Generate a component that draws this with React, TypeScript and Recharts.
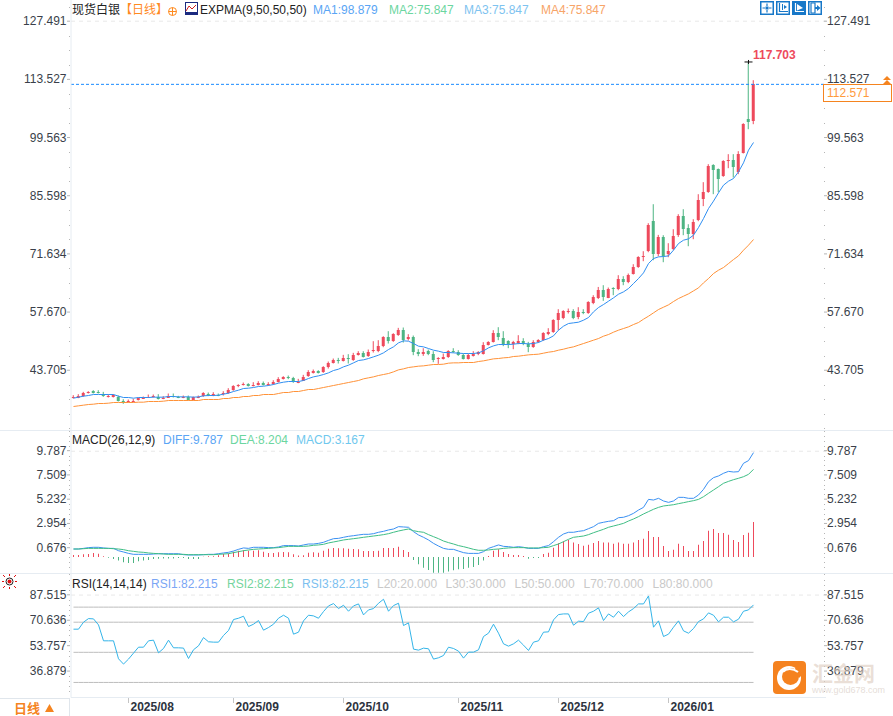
import React from 'react';
import { ComposedChart, Bar, Line, Cell, XAxis, YAxis, ReferenceLine, ReferenceDot } from 'recharts';

const highs = [
  37.72,37.96,38.52,38.68,38.92,38.92,38.52,37.96,37.96,37.64,
  36.76,36.68,36.84,37.16,37.4,37.88,37.88,37.96,37.48,38.12,
  38.12,37.56,37.64,37.64,37.4,37.64,38.44,38.36,38.44,38.12,
  38.68,39.4,40.12,40.36,40.76,40.6,40.84,41.08,41.0,40.84,
  41.32,42.04,42.28,42.44,42.12,41.64,42.6,43.72,43.88,43.72,
  44.68,45.8,46.52,46.68,47.4,47.56,47.88,48.28,48.28,48.68,
  50.68,50.92,51.88,53.08,52.6,53.88,53.96,52.36,52.04,48.76,
  49.0,48.68,48.28,46.84,47.72,48.52,49.0,48.52,47.72,47.72,
  48.28,48.28,50.44,50.68,53.32,54.04,53.08,50.92,50.76,52.12,
  51.4,50.52,50.92,51.16,52.84,53.8,55.96,58.36,58.12,58.52,
  58.36,58.84,58.36,60.28,61.72,63.7,64.12,63.56,63.64,66.52,
  66.28,66.92,69.16,71.08,72.28,79.0,83.56,76.2,76.12,74.2,
  77.56,81.16,82.36,78.76,79.96,85.96,88.85,93.17,93.17,92.13,
  94.13,95.57,95.57,96.29,103.01,117.703,113.33,
];
const opens = [
  37.24,37.16,37.48,38.28,38.68,38.44,38.04,37.4,37.24,37.24,
  36.36,36.04,36.36,36.52,36.92,37.16,37.4,37.4,36.92,37.24,
  37.56,37.4,37.16,37.24,36.52,37.16,37.48,38.12,37.64,37.88,
  37.96,38.2,38.92,39.88,40.2,40.36,40.04,40.2,40.68,40.12,
  40.28,40.92,41.56,42.04,41.8,40.92,41.24,42.28,43.0,43.48,
  43.24,44.36,45.4,46.28,45.88,46.6,46.12,47.32,47.96,47.08,
  48.2,48.36,49.48,51.64,50.68,52.28,53.48,51.16,51.64,48.04,
  47.56,48.36,47.56,46.28,46.36,46.84,48.28,48.04,47.32,46.36,
  47.08,47.56,47.56,49.72,50.44,52.6,51.4,50.68,49.96,50.12,
  50.68,49.96,49.24,50.44,50.92,52.36,52.84,55.72,56.2,57.64,
  57.88,56.44,57.64,57.4,59.72,61.0,62.92,61.08,63.4,63.16,
  65.56,64.84,66.76,68.44,70.84,72.28,79.48,71.56,75.64,71.56,
  72.76,76.12,80.68,77.8,76.36,79.72,84.77,86.45,92.93,91.97,
  90.29,94.13,94.13,91.25,95.81,103.97,103.49,
];
const closes = [
  37.4,37.64,38.2,38.44,38.2,38.28,37.48,37.56,37.72,36.28,
  36.12,36.28,36.44,37.0,37.16,37.4,37.56,36.84,37.16,37.64,
  37.32,37.16,37.4,36.52,37.24,37.4,38.2,37.56,38.04,37.64,
  38.28,39.0,39.88,40.12,40.36,39.96,40.28,40.68,40.12,40.44,
  40.84,41.56,42.12,41.72,41.0,41.0,42.2,43.32,43.56,43.0,
  44.44,45.4,46.12,46.12,46.68,46.44,47.32,47.8,47.08,48.04,
  48.52,49.56,51.64,50.68,52.36,53.48,51.16,51.64,48.04,47.56,
  48.04,47.72,46.12,46.6,46.84,48.28,48.04,47.32,46.36,47.32,
  47.56,48.04,49.72,50.52,52.6,51.64,49.72,49.96,50.44,50.68,
  49.96,49.24,50.52,50.92,52.6,52.84,55.72,57.4,57.88,57.88,
  56.2,57.64,57.4,60.04,61.24,62.9,61.32,63.32,63.16,65.56,
  64.84,66.52,68.44,70.84,71.08,78.52,71.56,75.64,71.08,72.28,
  75.88,80.68,77.56,76.36,79.24,84.52,86.45,92.69,91.73,89.57,
  93.89,94.29,92.45,95.57,102.77,103.25,112.33,
];
const lows = [
  36.92,37.0,37.32,38.12,38.12,38.12,37.32,37.16,37.16,36.2,
  35.64,35.96,36.04,36.44,36.84,37.08,37.16,36.68,36.76,37.16,
  37.16,37.0,37.0,36.44,36.44,37.0,37.32,37.48,37.48,37.48,
  37.64,38.04,38.76,39.64,40.04,39.8,39.8,40.04,40.04,39.96,
  40.2,40.76,41.48,41.56,40.68,40.6,41.16,42.12,42.92,42.92,
  43.08,44.12,45.32,45.32,45.8,45.32,45.96,47.24,46.76,46.92,
  47.96,48.04,49.24,50.12,50.52,51.96,50.36,50.84,47.32,47.08,
  47.16,47.32,45.64,45.24,46.28,46.68,47.88,47.16,46.28,46.28,
  47.0,47.32,47.48,49.64,50.36,50.92,49.48,49.0,48.76,49.96,
  49.72,48.04,49.08,50.28,50.76,52.12,52.68,53.32,55.96,57.32,
  55.96,55.96,57.16,57.24,59.56,60.8,60.36,61.0,61.72,62.92,
  64.12,64.6,66.68,68.28,69.88,72.04,70.12,71.08,69.64,70.84,
  72.52,75.72,76.12,73.48,75.16,79.48,83.1,86.29,85.97,86.45,
  90.13,92.21,89.97,90.77,95.73,101.57,102.77,
];
const ma1 = [
  37.0,37.24,37.48,37.64,37.88,37.88,37.88,37.88,37.88,37.48,
  37.16,37.16,37.0,37.16,37.16,37.16,37.24,37.24,37.24,37.4,
  37.4,37.32,37.32,37.32,37.24,37.32,37.56,37.64,37.64,37.72,
  37.96,38.2,38.6,38.92,39.32,39.4,39.56,39.8,39.88,40.04,
  40.28,40.6,40.84,41.0,41.0,41.0,41.24,41.72,42.12,42.36,
  42.68,43.08,43.64,43.96,44.52,44.92,45.48,46.04,46.2,46.52,
  46.92,47.32,47.88,48.68,49.32,50.28,50.76,50.68,50.12,49.48,
  49.32,48.92,48.52,48.28,47.96,47.96,47.88,47.8,47.72,47.72,
  47.72,47.88,48.36,49.08,49.56,49.88,49.88,49.88,49.96,50.12,
  50.12,50.04,50.12,50.36,50.92,51.32,51.96,53.32,54.28,54.92,
  55.08,55.24,55.72,56.36,57.72,58.76,59.48,60.28,61.08,61.96,
  62.52,63.32,64.52,65.72,67.08,69.32,70.52,70.92,71.0,71.16,
  72.52,74.12,74.92,75.24,76.12,77.96,80.12,82.52,84.3,86.29,
  88.13,89.09,89.73,91.33,93.49,96.53,98.37,
];
const ma2 = [
  35.0,35.16,35.32,35.48,35.56,35.72,35.72,35.8,35.96,35.96,
  35.96,35.96,35.96,36.04,36.04,36.2,36.2,36.2,36.28,36.44,
  36.44,36.44,36.44,36.44,36.44,36.44,36.68,36.68,36.68,36.68,
  36.92,36.92,37.16,37.16,37.4,37.4,37.64,37.64,37.88,37.88,
  37.88,38.12,38.36,38.36,38.6,38.6,38.84,39.08,39.08,39.32,
  39.56,39.8,40.04,40.28,40.52,40.76,41.0,41.24,41.64,41.88,
  42.12,42.44,42.68,42.92,43.32,43.8,44.04,44.36,44.52,44.68,
  44.76,44.92,45.08,45.08,45.16,45.4,45.48,45.48,45.56,45.56,
  45.56,45.8,45.96,46.2,46.44,46.52,46.68,46.76,47.0,47.08,
  47.24,47.4,47.48,47.56,47.8,48.04,48.2,48.52,48.76,49.08,
  49.32,49.72,50.12,50.52,50.92,51.32,51.88,52.28,52.84,53.32,
  53.72,54.12,54.68,55.16,55.96,56.68,57.48,58.28,58.84,59.4,
  60.2,60.92,61.48,62.04,62.76,63.48,64.68,65.72,66.92,67.72,
  68.36,69.32,70.28,71.16,72.52,73.72,75.08,
];
const diff = [
  0.75,0.75,0.81,0.88,0.91,0.91,0.85,0.81,0.81,0.59,
  0.47,0.34,0.25,0.25,0.25,0.25,0.28,0.31,0.31,0.31,
  0.31,0.31,0.22,0.19,0.19,0.19,0.22,0.25,0.25,0.31,
  0.38,0.44,0.56,0.72,0.85,0.81,0.91,0.91,0.91,0.88,
  0.88,0.94,1.07,1.07,1.07,1.03,1.13,1.22,1.22,1.28,
  1.38,1.56,1.72,1.75,1.85,1.94,2.0,2.07,2.13,2.13,
  2.19,2.32,2.41,2.54,2.63,2.85,2.82,2.79,2.38,2.07,
  1.85,1.6,1.28,1.03,0.81,0.72,0.72,0.56,0.41,0.34,
  0.34,0.34,0.5,0.81,0.97,1.13,1.0,0.97,0.91,0.97,
  0.91,0.81,0.81,0.81,0.97,1.07,1.44,1.85,2.16,2.32,
  2.32,2.41,2.47,2.66,2.85,3.16,3.26,3.35,3.41,3.69,
  3.73,3.88,4.1,4.41,4.66,5.41,5.35,5.51,5.26,5.13,
  5.26,5.6,5.6,5.51,5.51,5.82,6.35,7.07,7.45,7.61,
  7.86,8.04,7.98,8.01,8.8,9.05,9.8,
];
const dea = [
  0.75,0.75,0.78,0.81,0.81,0.81,0.81,0.81,0.78,0.75,
  0.69,0.59,0.53,0.47,0.44,0.38,0.34,0.31,0.28,0.25,
  0.25,0.25,0.25,0.22,0.22,0.22,0.22,0.22,0.22,0.25,
  0.28,0.31,0.41,0.5,0.59,0.66,0.72,0.75,0.78,0.81,
  0.85,0.88,0.94,1.0,1.0,1.0,1.0,1.03,1.1,1.13,
  1.19,1.32,1.41,1.5,1.6,1.66,1.72,1.78,1.85,1.91,
  1.97,2.03,2.1,2.19,2.32,2.44,2.54,2.63,2.47,2.38,
  2.32,2.1,1.91,1.72,1.5,1.35,1.22,1.07,0.97,0.85,
  0.72,0.63,0.63,0.66,0.72,0.75,0.81,0.85,0.88,0.88,
  0.88,0.85,0.85,0.85,0.88,0.91,1.07,1.22,1.44,1.66,
  1.85,1.91,1.97,2.1,2.28,2.44,2.6,2.79,2.91,3.03,
  3.16,3.38,3.57,3.79,4.04,4.26,4.48,4.66,4.79,4.85,
  4.91,5.01,5.1,5.2,5.29,5.41,5.66,5.98,6.29,6.6,
  6.92,7.1,7.26,7.39,7.54,7.76,8.23,
];
const macdHist = [
  0.19,0.19,0.25,0.28,0.38,0.31,0.06,-0.06,-0.19,-0.34,
  -0.5,-0.56,-0.56,-0.41,-0.34,-0.28,-0.19,-0.16,-0.13,-0.13,
  -0.13,-0.09,-0.09,-0.19,-0.19,-0.19,0.03,0.06,0.06,0.16,
  0.28,0.34,0.5,0.59,0.63,0.59,0.59,0.63,0.5,0.38,
  0.38,0.44,0.47,0.44,0.25,0.13,0.16,0.41,0.44,0.41,
  0.59,0.78,0.85,0.81,0.81,0.78,0.75,0.72,0.56,0.56,
  0.56,0.59,0.85,0.85,0.85,0.97,0.66,0.47,-0.28,-0.69,
  -1.0,-1.22,-1.47,-1.47,-1.47,-1.35,-1.25,-1.16,-1.13,-1.0,
  -0.94,-0.75,-0.34,0.09,0.59,0.72,0.47,0.28,0.19,0.19,
  0.09,-0.16,-0.09,-0.09,0.28,0.41,0.88,1.28,1.47,1.6,
  1.35,1.22,1.06,1.16,1.31,1.5,1.35,1.35,1.25,1.35,
  1.25,1.25,1.35,1.6,1.72,2.44,1.88,1.88,1.03,0.56,
  0.69,1.25,1.03,0.56,0.56,1.16,1.5,2.47,2.63,2.25,
  2.25,2.1,1.6,1.41,2.07,2.28,3.29,
];
const rsi = [
  65.36,65.36,70.0,72.4,72.2,68.2,57.63,57.63,57.63,45.7,
  42.2,45.5,49.46,53.4,53.4,57.63,58.07,49.7,52.55,58.07,
  53.0,53.0,52.8,45.9,51.7,54.3,59.8,57.0,56.75,56.75,
  61.2,64.5,71.76,72.64,73.97,67.12,68.67,71.1,64.7,66.46,
  68.67,72.64,74.63,72.64,62.05,63.37,70.88,74.63,74.19,72.64,
  77.06,80.81,82.36,79.05,81.26,77.28,80.81,82.14,74.85,78.16,
  79.05,82.58,85.23,77.28,81.03,82.58,67.79,69.55,52.11,51.45,
  52.77,52.33,45.5,46.37,47.9,53.4,52.55,50.78,46.15,50.12,
  50.12,51.67,60.5,62.71,68.67,62.71,55.64,54.1,55.64,58.07,
  54.76,51.23,56.75,57.63,63.37,63.59,71.54,75.07,75.5,75.5,
  68.0,70.66,70.44,75.96,77.28,79.49,71.1,75.5,73.3,77.28,
  73.75,76.84,79.05,82.14,82.14,87.44,66.68,70.88,60.5,62.05,
  66.68,70.88,64.25,62.71,65.8,70.44,72.2,76.18,74.63,70.22,
  73.3,73.3,70.22,71.98,77.28,78.16,81.48,
];

const rsiLevels = [80, 70, 50, 30, 20];
const priceTicks = [127.491, 113.527, 99.563, 85.598, 71.634, 57.67, 43.705];
const macdTicks = [9.787, 7.509, 5.232, 2.954, 0.676];
const rsiTicks = [87.515, 70.636, 53.757, 36.879];
const monthTicks = [11, 32, 54, 77, 97, 119];
const monthLabels = ['2025/08', '2025/09', '2025/10', '2025/11', '2025/12', '2026/01'];

const RED = '#ee4a5c';
const GREEN = '#4db583';
const FONT = '"Liberation Sans", Arial, "Noto Sans CJK SC", sans-serif';
const LABEL = '#3a3f4a';

const data = closes.map((c, i) => ({
  idx: i, open: opens[i], high: highs[i], low: lows[i], close: c,
  ma1: ma1[i], ma2: ma2[i], diff: diff[i], dea: dea[i], hist: macdHist[i], rsi: rsi[i],
}));

// major ticks plus the little dots between them
const withMinor = (majors: number[], parts: number, min: number, max: number) => {
  const out: number[] = [];
  const step = (majors[0] - majors[1]) / parts;
  for (let k = parts; k >= 1; k--) if (majors[0] + step * k < max) out.push(majors[0] + step * k);
  majors.forEach((m, i) => {
    out.push(m);
    if (i < majors.length - 1) {
      for (let k = 1; k < parts; k++) out.push(m - ((m - majors[i + 1]) * k) / parts);
    }
  });
  const last = majors[majors.length - 1];
  for (let k = 1; last - step * k > min; k++) out.push(last - step * k);
  return out;
};

const AxisTick = ({ y, value, side, majors, dy = 0 }: any) => {
  const major = majors.find((m: number) => Math.abs(m - value) < 1e-6);
  const yy = y + dy;
  if (major === undefined) {
    return <rect x={side === 'left' ? 69 : 824} y={Math.round(yy)} width={1} height={1} fill="#b5b5b5" />;
  }
  return (
    <g>
      <line x1={side === 'left' ? 67 : 824} x2={side === 'left' ? 70 : 827} y1={yy} y2={yy} stroke="#b5b5b5" />
      <text
        x={side === 'left' ? 66.5 : 827}
        y={yy}
        textAnchor={side === 'left' ? 'end' : 'start'}
        dominantBaseline="central"
        fontSize={12}
        fontFamily={FONT}
        fill={LABEL}
      >
        {major.toFixed(3)}
      </text>
    </g>
  );
};

const Candle = (props: any) => {
  const { x, y, width, height, payload } = props;
  if (payload.high == null) return null;
  const unit = Math.abs(height) / (payload.high - payload.low);
  const cx = x + width / 2;
  const up = payload.close >= payload.open;
  const color = up ? RED : GREEN;
  const top = y + (payload.high - Math.max(payload.open, payload.close)) * unit;
  const bodyH = Math.max(Math.abs(payload.open - payload.close) * unit, 1);
  return (
    <g>
      <rect x={cx - 0.5} y={y} width={1} height={Math.abs(height)} fill={color} />
      <rect x={cx - 1.5} y={Math.round(top)} width={3} height={Math.max(Math.round(bodyH), 1)} fill={color} />
    </g>
  );
};

const HighMark = ({ cx, cy }: any) => (
  <g>
    <line x1={cx - 4} x2={cx + 4} y1={cy} y2={cy} stroke="#111" />
    <line x1={cx} x2={cx} y1={cy - 2} y2={cy + 2} stroke="#111" />
    <text x={cx + 4.5} y={cy - 7} fontSize={12} fontWeight="bold" fontFamily={FONT} fill={RED} dominantBaseline="central">
      117.703
    </text>
  </g>
);

const MonthTick = ({ x, payload }: any) => (
  <g>
    <line x1={x} x2={x} y1={124} y2={129} stroke="#c4c4c4" />
    <text x={x + 2} y={132.7} fontSize={12} fontWeight="bold" fontFamily={FONT} fill="#2d3340" dominantBaseline="central">
      {monthLabels[monthTicks.indexOf(payload.value)]}
    </text>
  </g>
);

const Txt = ({ x, y, color = '#222', children, size = 12, weight }: any) => (
  <span style={{ position: 'absolute', left: x, top: y - 8, height: 16, lineHeight: '16px', color, fontSize: size, fontWeight: weight, whiteSpace: 'nowrap' }}>
    {children}
  </span>
);

const IconBtn = ({ x, filled, d, solid }: any) => (
  <svg style={{ position: 'absolute', left: x, top: 1 }} width={14} height={14}>
    <rect x={0.75} y={0.75} width={12.5} height={12.5} fill={filled ? '#1878c8' : '#fff'} stroke="#1878c8" strokeWidth={1.5} />
    <path d={d} stroke={filled ? '#fff' : '#1878c8'} fill="none" strokeWidth={1.2} />
    {solid && <path d={solid} fill={filled ? '#fff' : '#1878c8'} />}
  </svg>
);

const PRICE_DOMAIN = [29.36, 132.58];
const MACD_DOMAIN = [-1.596, 11.83];
const RSI_DOMAIN = [20, 102];

const PriceChart = () => (
  <ComposedChart width={893} height={430} data={data} margin={{ top: 0, right: 0, bottom: 0, left: 0 }} barCategoryGap={0}>
    <XAxis dataKey="idx" hide padding={{ left: 0, right: 70 }} height={0} />
    <YAxis yAxisId="left" orientation="left" width={71} domain={PRICE_DOMAIN} allowDataOverflow interval={0}
      ticks={withMinor(priceTicks, 4, PRICE_DOMAIN[0], PRICE_DOMAIN[1])} axisLine={{ stroke: '#e6ecf2' }} tickLine={false}
      tick={(p: any) => <AxisTick y={p.y} value={p.payload.value} side="left" majors={priceTicks} />} />
    <YAxis yAxisId="right" orientation="right" width={67} domain={PRICE_DOMAIN} allowDataOverflow interval={0}
      ticks={withMinor(priceTicks, 4, PRICE_DOMAIN[0], PRICE_DOMAIN[1])} axisLine={false} tickLine={false}
      tick={(p: any) => <AxisTick y={p.y} value={p.payload.value} side="right" majors={priceTicks} />} />
    <ReferenceLine yAxisId="left" y={127.491} stroke="#e8e8e8" strokeDasharray="4 4" />
    <Bar yAxisId="left" dataKey={(d: any) => [d.low, d.high]} barSize={5} shape={Candle} isAnimationActive={false} />
    <Line yAxisId="left" dataKey="ma1" stroke="#2f8ff2" strokeWidth={1} dot={false} isAnimationActive={false} />
    <Line yAxisId="left" dataKey="ma2" stroke="#ff9238" strokeWidth={1} dot={false} isAnimationActive={false} />
    <ReferenceLine yAxisId="left" y={112.33} stroke="#1a8cff" strokeDasharray="3 2" />
    <ReferenceDot yAxisId="left" x={135} y={117.703} shape={HighMark} />
  </ComposedChart>
);

const MacdChart = () => (
  <ComposedChart width={893} height={143} data={data} margin={{ top: 0, right: 0, bottom: 0, left: 0 }}>
    <XAxis dataKey="idx" hide padding={{ left: 0, right: 70 }} height={0} />
    <YAxis yAxisId="left" orientation="left" width={71} domain={MACD_DOMAIN} allowDataOverflow interval={0}
      ticks={withMinor(macdTicks, 5, MACD_DOMAIN[0], MACD_DOMAIN[1])} axisLine={{ stroke: '#e6ecf2' }} tickLine={false}
      tick={(p: any) => <AxisTick y={p.y} dy={-2.1} value={p.payload.value} side="left" majors={macdTicks} />} />
    <YAxis yAxisId="right" orientation="right" width={67} domain={MACD_DOMAIN} allowDataOverflow interval={0}
      ticks={withMinor(macdTicks, 5, MACD_DOMAIN[0], MACD_DOMAIN[1])} axisLine={false} tickLine={false}
      tick={(p: any) => <AxisTick y={p.y} dy={-2.1} value={p.payload.value} side="right" majors={macdTicks} />} />
    <ReferenceLine yAxisId="left" y={9.93} stroke="#e8e8e8" strokeDasharray="4 4" />
    <Bar yAxisId="left" dataKey="hist" barSize={1} isAnimationActive={false}>
      {macdHist.map((v, i) => <Cell key={i} fill={v >= 0 ? RED : GREEN} />)}
    </Bar>
    <Line yAxisId="left" dataKey="diff" stroke="#3a90f2" strokeWidth={1} dot={false} isAnimationActive={false} />
    <Line yAxisId="left" dataKey="dea" stroke="#3fbe85" strokeWidth={1} dot={false} isAnimationActive={false} />
  </ComposedChart>
);

// no Bar in this panel, so the axis is a point scale: padding puts it on the same 5px slots
const RsiChart = () => (
  <ComposedChart width={893} height={142} data={data} margin={{ top: 0, right: 0, bottom: 0, left: 0 }}>
    <XAxis dataKey="idx" height={18.5} padding={{ left: 2.5, right: 72.5 }} ticks={monthTicks} interval={0}
      axisLine={{ stroke: '#e6ecf2' }} tickLine={false} tick={MonthTick} />
    <YAxis yAxisId="left" orientation="left" width={71} domain={RSI_DOMAIN} allowDataOverflow interval={0}
      ticks={withMinor(rsiTicks, 5, RSI_DOMAIN[0], RSI_DOMAIN[1])} axisLine={{ stroke: '#e6ecf2' }} tickLine={false}
      tick={(p: any) => <AxisTick y={p.y} dy={-1} value={p.payload.value} side="left" majors={rsiTicks} />} />
    <YAxis yAxisId="right" orientation="right" width={67} domain={RSI_DOMAIN} allowDataOverflow interval={0}
      ticks={withMinor(rsiTicks, 5, RSI_DOMAIN[0], RSI_DOMAIN[1])} axisLine={false} tickLine={false}
      tick={(p: any) => <AxisTick y={p.y} dy={-1} value={p.payload.value} side="right" majors={rsiTicks} />} />
    <ReferenceLine yAxisId="left" y={88} stroke="#e8e8e8" strokeDasharray="4 4" />
    {rsiLevels.map((lv) => (
      <Line key={lv} yAxisId="left" dataKey={() => lv} stroke="#bdbdbd" strokeWidth={1} dot={false} isAnimationActive={false} />
    ))}
    <Line yAxisId="left" dataKey="rsi" stroke="#33b4e8" strokeWidth={1} dot={false} isAnimationActive={false} />
  </ComposedChart>
);

export default function App() {
  return (
    <div style={{ position: 'absolute', left: 0, top: 0, width: 893, height: 716, background: '#fff', overflow: 'hidden', fontFamily: FONT, fontSize: 12 }}>
      <div style={{ position: 'absolute', left: 0, top: 0 }}><PriceChart /></div>
      <div style={{ position: 'absolute', left: 0, top: 431 }}><MacdChart /></div>
      <div style={{ position: 'absolute', left: 0, top: 574 }}><RsiChart /></div>

      {/* panel separators */}
      <div style={{ position: 'absolute', left: 0, top: 430, width: 893, height: 1, background: '#e6ecf2' }} />
      <div style={{ position: 'absolute', left: 0, top: 573, width: 893, height: 1, background: '#e6ecf2' }} />

      {/* price legend */}
      <Txt x={72} y={10}>现货白银</Txt>
      <Txt x={120} y={10} color="#ff8a1f">【日线】</Txt>
      <svg style={{ position: 'absolute', left: 168, top: 7 }} width={9} height={9}>
        <circle cx={4.5} cy={4.5} r={4} fill="none" stroke="#ff8a1f" />
        <path d="M0.5 4.5H8.5M4.5 0.5V8.5" stroke="#ff8a1f" />
      </svg>
      <svg style={{ position: 'absolute', left: 185, top: 2 }} width={13} height={13}>
        <rect x={0.5} y={0.5} width={12} height={12} fill="#fff" stroke="#1b2a80" />
        <path d="M1 9L4 4L7 7L11 3" stroke="#d02020" fill="none" />
        <rect x={0} y={10} width={13} height={3} fill="#1b2a80" />
      </svg>
      <Txt x={200} y={10}>EXPMA(9,50,50,50)</Txt>
      <Txt x={313} y={10} color="#5aa5f5">MA1:98.879</Txt>
      <Txt x={389} y={10} color="#6cd6a0">MA2:75.847</Txt>
      <Txt x={464} y={10} color="#7ec3f0">MA3:75.847</Txt>
      <Txt x={541} y={10} color="#f7a468">MA4:75.847</Txt>

      {/* last price tag */}
      <div style={{ position: 'absolute', left: 823, top: 84, width: 64, height: 16, border: '1px solid #f5841f', background: '#fff', color: '#ff9a3c', fontSize: 12, lineHeight: '16px', paddingLeft: 3, boxSizing: 'content-box' }}>
        112.571
      </div>
      <svg style={{ position: 'absolute', left: 883, top: 76 }} width={8} height={8}>
        <path d="M0 4L4 0L8 4Z M0 8L4 4L8 8Z" fill="#f5841f" />
      </svg>

      {/* toolbar */}
      <IconBtn x={760} d="M7 2.5V5M7 9V11.5M2.5 7H5M9 7H11.5" solid="M5.5 5.5H8.5V8.5H5.5Z" />
      <IconBtn x={776} d="M3.5 2V10.5H12M3.5 10.5" solid="M6 3H7V9H6ZM8 4L11 6L8 8Z" />
      <IconBtn x={792} filled d="M3.5 2V10.5H12" solid="M5 3L11 7L5 9.5Z" />
      <IconBtn x={808} d="M3 2V12M3 2H7V12H3" solid="M7 6H9V4L12.5 7L9 10V8H7Z" />

      {/* macd legend */}
      <Txt x={72} y={440}>MACD(26,12,9)</Txt>
      <Txt x={163} y={440} color="#5aa5f5">DIFF:9.787</Txt>
      <Txt x={230} y={440} color="#6cd6a0">DEA:8.204</Txt>
      <Txt x={296} y={440} color="#6fc8ee">MACD:3.167</Txt>

      {/* rsi legend */}
      <svg style={{ position: 'absolute', left: 2, top: 574 }} width={15} height={15}>
        <circle cx={7.5} cy={7.5} r={3.5} fill="none" stroke="#222" />
        <circle cx={7.5} cy={7.5} r={2} fill="#e01010" />
        <path d="M1 1L3 3M14 1L12 3M1 14L3 12M14 14L12 12M7.5 0V2M7.5 13V15M0 7.5H2M13 7.5H15" stroke="#e01010" />
      </svg>
      <Txt x={72} y={583.5}>RSI(14,14,14)</Txt>
      <Txt x={151} y={583.5} color="#7aa6f5">RSI1:82.215</Txt>
      <Txt x={227} y={583.5} color="#74d49d">RSI2:82.215</Txt>
      <Txt x={302} y={583.5} color="#7cc0ef">RSI3:82.215</Txt>
      <Txt x={377} y={583.5} color="#c9c9c9">L20:20.000</Txt>
      <Txt x={445.5} y={583.5} color="#c9c9c9">L30:30.000</Txt>
      <Txt x={514.5} y={583.5} color="#c9c9c9">L50:50.000</Txt>
      <Txt x={583.5} y={583.5} color="#c9c9c9">L70:70.000</Txt>
      <Txt x={652.5} y={583.5} color="#c9c9c9">L80:80.000</Txt>

      {/* period switch */}
      <div style={{ position: 'absolute', left: 0, top: 698, width: 70, height: 18, background: '#fff', borderRight: '1px solid #e0e6ec', borderTop: '1px solid #e0e6ec', boxSizing: 'border-box' }} />
      <Txt x={14} y={708.5} color="#f5841f" size={13} weight="bold">日线</Txt>
      <svg style={{ position: 'absolute', left: 45, top: 704 }} width={9} height={8}>
        <path d="M0 8L4.5 0L9 8Z" fill="#f5841f" />
      </svg>

      {/* watermark */}
      <svg style={{ position: 'absolute', left: 773, top: 661 }} width={33} height={33}>
        <rect width={33} height={33} rx={4} fill="#f5821f" />
        <circle cx={16} cy={17} r={12} fill="#fff" />
        <circle cx={17.5} cy={15.5} r={8.5} fill="#f5821f" />
        <path d="M24 5L31 12L26 17L21 9Z" fill="#f5821f" />
        <path d="M10 11C13 7 20 7 25 11" stroke="#fff" strokeWidth={2} fill="none" />
      </svg>
      <Txt x={812} y={674} color="rgba(222,205,192,0.65)" size={21} weight="bold">汇金网</Txt>
      <Txt x={812} y={690} color="rgba(222,212,205,0.8)" size={9}>www.gold678.com</Txt>
    </div>
  );
}
